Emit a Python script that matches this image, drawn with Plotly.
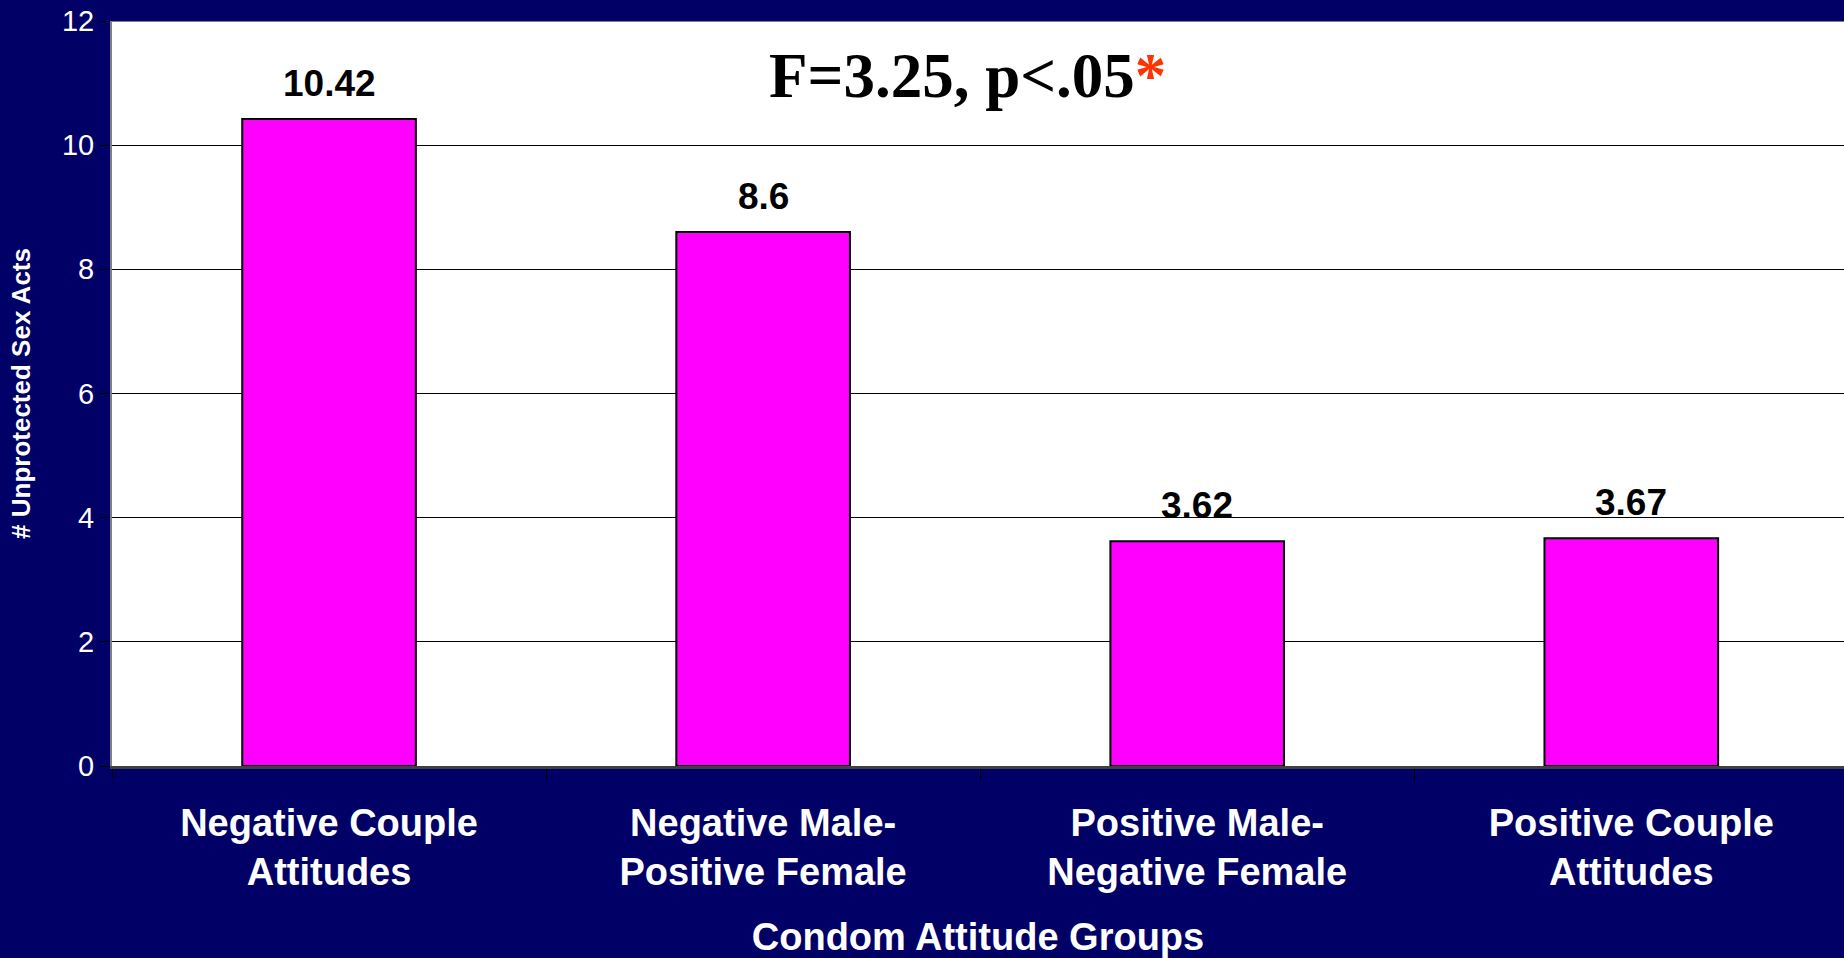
import plotly.graph_objects as go

categories = ["Negative Couple<br>Attitudes", "Negative Male-<br>Positive Female",
              "Positive Male-<br>Negative Female", "Positive Couple<br>Attitudes"]
values = [10.42, 8.6, 3.62, 3.67]
value_labels = ["10.42", "8.6", "3.62", "3.67"]
y_ticks = [0, 2, 4, 6, 8, 10, 12]

NAVY = "rgb(0,0,102)"
W, H = 1844, 958
ML, MT, MB, MR = 112, 21, 192, 0

fig = go.Figure()
fig.add_trace(go.Bar(
    x=categories, y=values,
    marker=dict(color="#FF00FF", line=dict(color="black", width=2)),
    width=0.4, hoverinfo="x+y",
))

for c, v, t in zip(categories, values, value_labels):
    fig.add_annotation(x=c, y=v, xref="x", yref="y", text="<b>" + t + "</b>", showarrow=False,
                       yanchor="bottom", yshift=13,
                       font=dict(family="Liberation Sans, Arial", size=37, color="black"))

fig.add_annotation(xref="paper", yref="paper", x=0.494, y=0.926, xanchor="center", yanchor="middle",
                   text="<b>F=3.25, p&lt;.05</b><b><span style='color:#FF3300'>*</span></b>",
                   showarrow=False,
                   font=dict(family="Liberation Serif, Times New Roman", size=63, color="black"))

fig.update_layout(
    width=W, height=H,
    margin=dict(l=ML, r=MR, t=MT, b=MB, autoexpand=False),
    paper_bgcolor=NAVY, plot_bgcolor="white",
    showlegend=False, bargap=0.6,
    font=dict(family="Liberation Sans, Arial", color="white"),
)
fig.update_xaxes(
    type="category", range=[-0.5, 3.49],
    tickson="boundaries", ticks="outside", ticklen=12, tickcolor="black", tickwidth=1,
    showline=True, linecolor="#404040", linewidth=3, mirror=False,
    showgrid=False,
    tickfont=dict(family="Liberation Sans, Arial", size=38, color="white", weight="bold"),
    ticklabelstandoff=21,
    title=dict(text="<b>Condom Attitude Groups</b>", standoff=45,
               font=dict(family="Liberation Sans, Arial", size=38, color="white")),
)
fig.update_yaxes(
    range=[0, 12], tickvals=y_ticks,
    ticks="outside", ticklen=10, tickcolor="black", tickwidth=1,
    showline=True, linecolor="#808080", linewidth=2,
    showgrid=True, gridcolor="black", gridwidth=1,
    zeroline=False,
    tickfont=dict(family="Liberation Sans, Arial", size=29, color="white"),
    title=dict(text="<b># Unprotected Sex Acts</b>", standoff=24,
               font=dict(family="Liberation Sans, Arial", size=26, color="white")),
)
# top border of plot area (grey)
fig.add_shape(type="line", xref="paper", yref="y", x0=0, x1=1, y0=12, y1=12,
              line=dict(color="#808080", width=2))

fig.write_html("out.html", config={"displayModeBar": False},
               post_script="document.body.style.margin='0';document.body.style.overflow='hidden';")
